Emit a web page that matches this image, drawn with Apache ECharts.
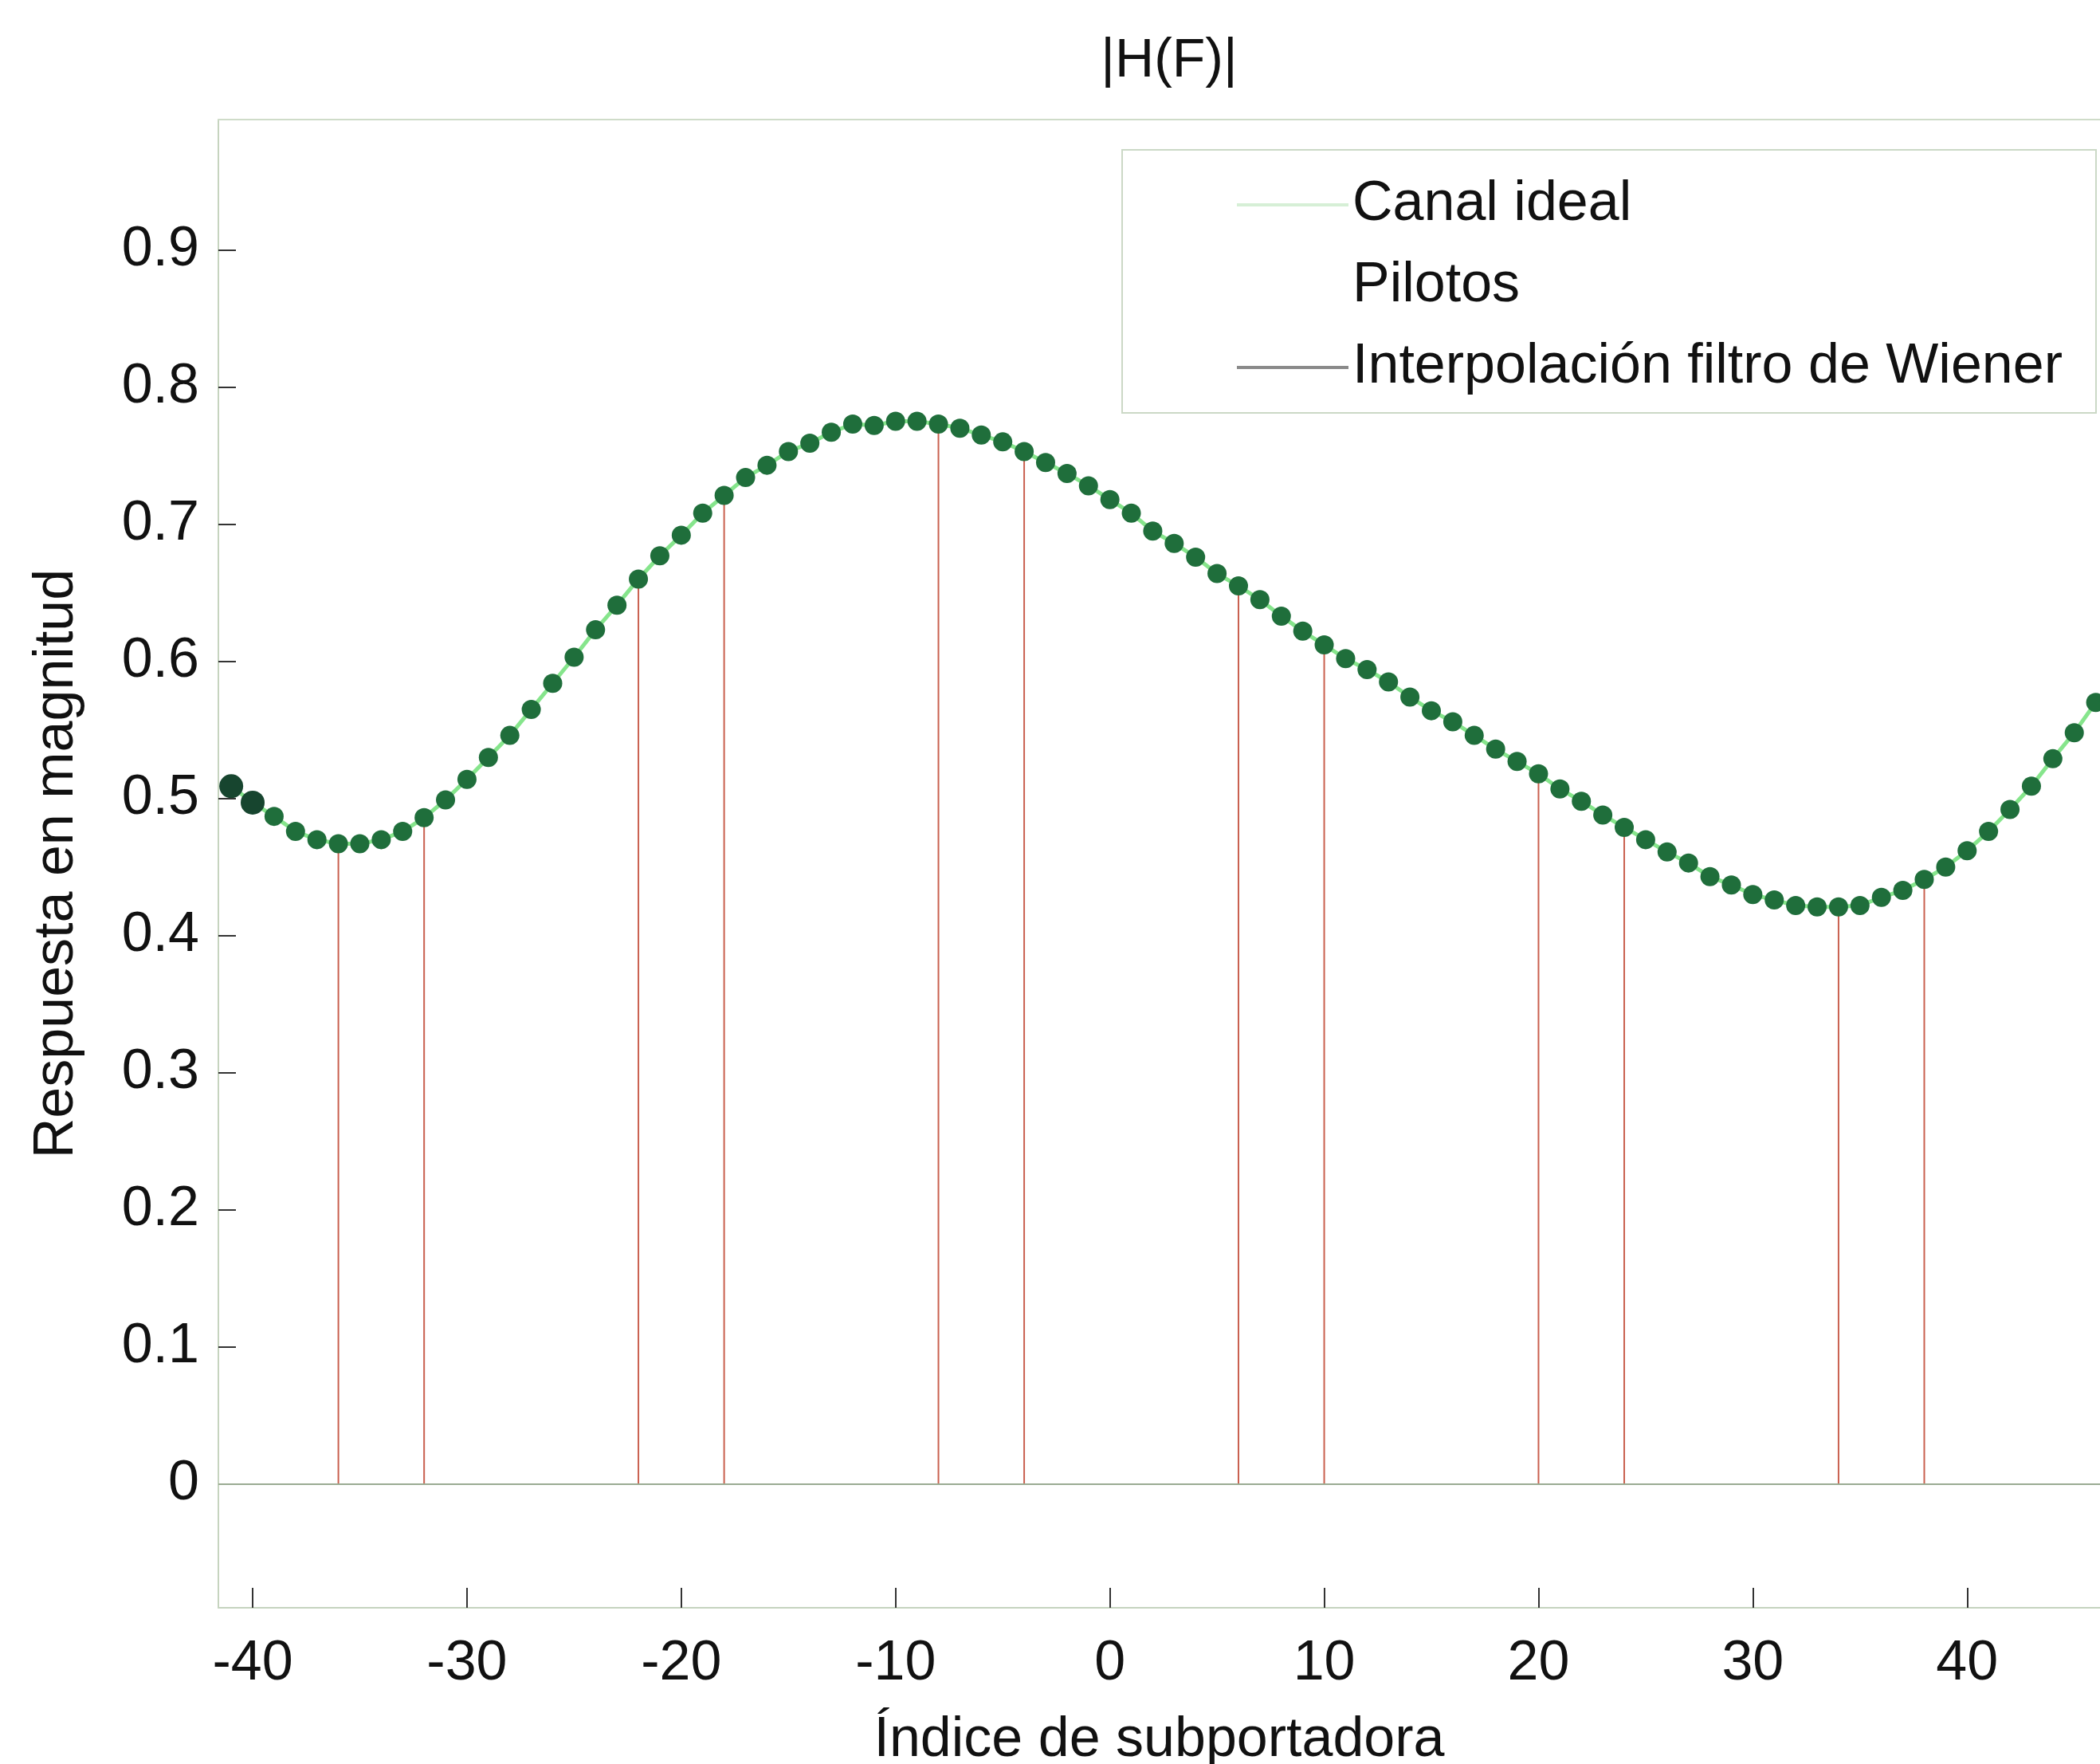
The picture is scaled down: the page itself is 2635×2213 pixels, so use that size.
<!DOCTYPE html>
<html>
<head>
<meta charset="utf-8">
<title>|H(F)|</title>
<script src="https://cdn.jsdelivr.net/npm/echarts@6/dist/echarts.min.js"></script>
<style>
  html, body { margin: 0; padding: 0; background: #ffffff; }
  #chart { width: 2635px; height: 2213px; }
</style>
</head>
<body>
<div id="chart"></div>
<script>
// Subcarrier indices and channel magnitude |H(F)|
const subportadoras = [
  -41, -40, -39, -38, -37, -36, -35, -34, -33, -32, -31, -30, -29, -28, -27, -26, -25, -24, -23, -22,
  -21, -20, -19, -18, -17, -16, -15, -14, -13, -12, -11, -10, -9, -8, -7, -6, -5, -4, -3, -2,
  -1, 0, 1, 2, 3, 4, 5, 6, 7, 8, 9, 10, 11, 12, 13, 14, 15, 16, 17, 18,
  19, 20, 21, 22, 23, 24, 25, 26, 27, 28, 29, 30, 31, 32, 33, 34, 35, 36, 37, 38,
  39, 40, 41, 42, 43, 44, 45, 46
];
const magnitud = [
  0.509, 0.497, 0.487, 0.476, 0.470, 0.467, 0.467, 0.470, 0.476, 0.486, 0.499, 0.514, 0.530, 0.546, 0.565, 0.584, 0.603, 0.623, 0.641, 0.660,
  0.677, 0.692, 0.708, 0.721, 0.734, 0.743, 0.753, 0.759, 0.767, 0.773, 0.772, 0.775, 0.775, 0.773, 0.770, 0.765, 0.760, 0.753, 0.745, 0.737,
  0.728, 0.718, 0.708, 0.695, 0.686, 0.676, 0.664, 0.655, 0.645, 0.633, 0.622, 0.612, 0.602, 0.594, 0.585, 0.574, 0.564, 0.556, 0.546, 0.536,
  0.527, 0.518, 0.507, 0.498, 0.488, 0.479, 0.470, 0.461, 0.453, 0.443, 0.437, 0.430, 0.426, 0.422, 0.421, 0.421, 0.422, 0.428, 0.433, 0.441,
  0.450, 0.462, 0.476, 0.492, 0.509, 0.529, 0.548, 0.570
];

// Pilot subcarriers (stems)
const pilotosIdx = [-36, -32, -22, -18, -8, -4, 6, 10, 20, 24, 34, 38];
const pilotosVal = [0.467, 0.486, 0.660, 0.721, 0.773, 0.753, 0.655, 0.612, 0.518, 0.479, 0.421, 0.441];

// Axis ticks
const xTicks = [-40, -30, -20, -10, 0, 10, 20, 30, 40];
const yTicks = [0, 0.1, 0.2, 0.3, 0.4, 0.5, 0.6, 0.7, 0.8, 0.9];

const FONT = "'Liberation Sans', Arial, Helvetica, sans-serif";
const X_MIN = -41.6, X_MAX = 46.2;
const curve = subportadoras.map((x, i) => [x, magnitud[i]]);
const pilots = pilotosIdx.map((x, i) => [x, pilotosVal[i]]);

const chart = echarts.init(document.getElementById('chart'), null, { renderer: 'canvas' });

chart.setOption({
  backgroundColor: '#ffffff',
  animation: false,
  title: {
    text: '|H(F)|',
    left: 1462,
    top: 38,
    textAlign: 'center',
    textStyle: { fontFamily: FONT, fontSize: 68, fontWeight: 'normal', color: '#111' }
  },
  grid: {
    left: 274, top: 150, right: 0, height: 1867,
    show: false,
    outerBoundsMode: 'none'
  },
  legend: {
    orient: 'vertical',
    left: 1408, top: 188,
    padding: [29, 42, 17, 144],
    itemGap: 22, itemWidth: 140, itemHeight: 4,
    borderColor: '#cbd8c6', borderWidth: 2, backgroundColor: '#ffffff',
    textStyle: { fontFamily: FONT, fontSize: 70, color: '#111', lineHeight: 80 },
    data: [
      { name: 'Canal ideal', icon: 'rect', itemStyle: { color: '#d6efd6' } },
      { name: 'Pilotos', icon: 'rect', itemStyle: { color: 'rgba(0,0,0,0)' } },
      { name: 'Interpolación filtro de Wiener', icon: 'rect', itemStyle: { color: '#8a8a8a' } }
    ]
  },
  xAxis: [
    {
      type: 'value',
      min: X_MIN, max: X_MAX,
      name: 'Índice de subportadora',
      nameLocation: 'middle',
      nameGap: 132,
      nameTextStyle: { fontFamily: FONT, fontSize: 70, color: '#111' },
      axisLine: { show: true, onZero: false, lineStyle: { color: '#c6d4bf', width: 2 } },
      axisTick: { show: true, inside: true, length: 25, customValues: xTicks, lineStyle: { color: '#333', width: 2 } },
      axisLabel: { customValues: xTicks, fontFamily: FONT, fontSize: 70, color: '#111', margin: 36 },
      splitLine: { show: false }
    },
    {
      // top edge of the axes box
      type: 'value',
      position: 'top',
      min: X_MIN, max: X_MAX,
      axisLine: { show: true, onZero: false, lineStyle: { color: '#cfdcc9', width: 2 } },
      axisTick: { show: false },
      axisLabel: { show: false },
      splitLine: { show: false }
    }
  ],
  yAxis: {
    type: 'value',
    min: -0.09, max: 0.995,
    name: 'Respuesta en magnitud',
    nameLocation: 'middle',
    nameGap: 167,
    nameTextStyle: { fontFamily: FONT, fontSize: 70, color: '#111' },
    axisLine: { show: true, onZero: false, lineStyle: { color: '#c6d4bf', width: 2 } },
    axisTick: { show: true, inside: true, length: 22, customValues: yTicks, lineStyle: { color: '#333', width: 2 } },
    axisLabel: { customValues: yTicks, fontFamily: FONT, fontSize: 70, color: '#111', margin: 24 },
    splitLine: { show: false }
  },
  series: [
    {
      name: 'Canal ideal',
      type: 'line',
      data: curve,
      symbol: 'none',
      lineStyle: { color: '#86e58c', width: 5 },
      itemStyle: { color: '#d6efd6' },
      z: 2
    },
    {
      name: 'Pilotos',
      type: 'custom',
      data: pilots,
      clip: true,
      itemStyle: { color: '#c9604f' },
      renderItem: function (params, api) {
        const base = api.coord([api.value(0), 0]);
        const top = api.coord([api.value(0), api.value(1)]);
        return {
          type: 'line',
          shape: { x1: base[0], y1: base[1], x2: top[0], y2: top[1] },
          style: { stroke: '#c9604f', lineWidth: 2 }
        };
      },
      markLine: {
        silent: true,
        symbol: ['none', 'none'],
        label: { show: false },
        lineStyle: { color: '#9aab92', width: 2, type: 'solid' },
        data: [{ yAxis: 0 }]
      },
      z: 3
    },
    {
      name: 'Interpolación filtro de Wiener',
      type: 'scatter',
      data: curve,
      symbol: 'circle',
      symbolSize: function (val, params) { return params.dataIndex < 2 ? 30 : 24; },
      itemStyle: {
        color: function (params) { return params.dataIndex < 2 ? '#17452f' : '#1f6e3b'; },
        opacity: 1
      },
      z: 4
    }
  ]
});
</script>
</body>
</html>
